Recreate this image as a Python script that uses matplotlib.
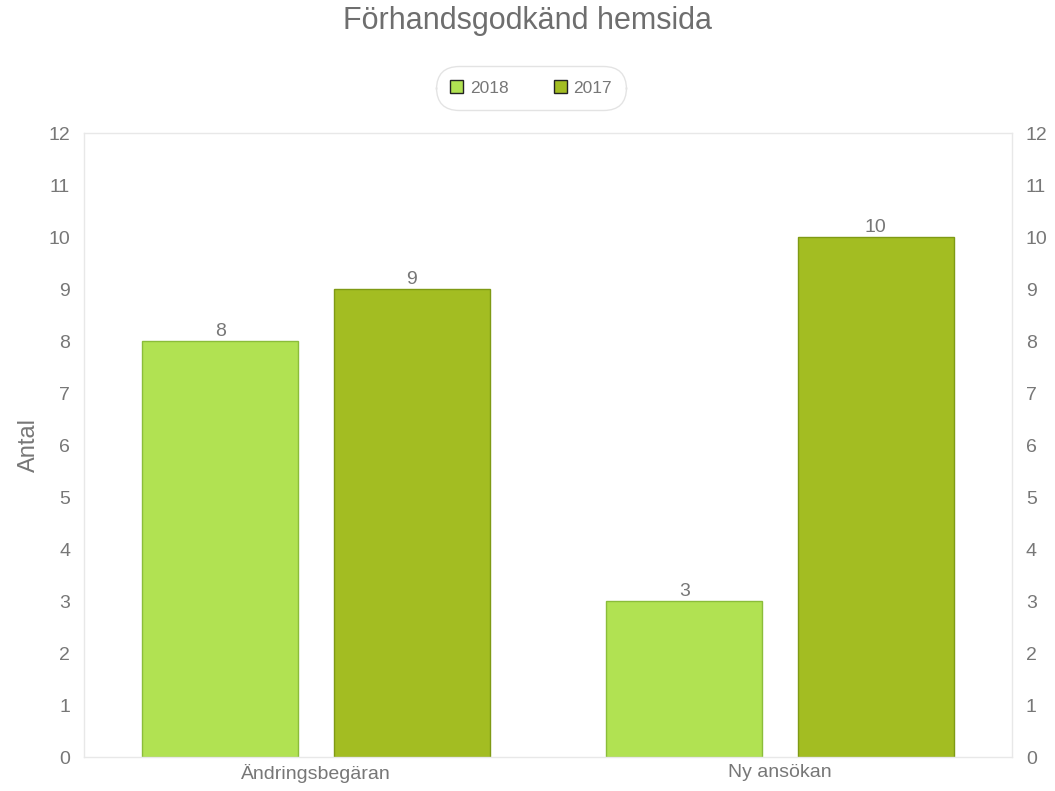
import numpy as np
import matplotlib.pyplot as plt

plt.rcParams['font.family'] = ['Liberation Sans', 'DejaVu Sans']

# data
kategorier = ['Ändringsbegäran', 'Ny ansökan']
serier = ['2018', '2017']
varden_2018 = [8, 3]
varden_2017 = [9, 10]

farger = ['#b1e252', '#a3bd22']
kanter = ['#8bbd3a', '#7f9a14']
grå = '#777777'

fig = plt.figure(figsize=(10.55, 7.91), dpi=100)
ax = fig.add_axes([84 / 1055, 1 - 757 / 791, 928 / 1055, 624 / 791])

x = np.arange(len(kategorier))
bredd = 0.336
forskjut = 0.206

for i, (namn, varden) in enumerate(zip(serier, [varden_2018, varden_2017])):
    pos = x + (forskjut if i else -forskjut)
    staplar = ax.bar(pos, varden, bredd, color=farger[i], edgecolor=kanter[i],
                     linewidth=1, label=namn, zorder=2)
    for s, v in zip(staplar, varden):
        ax.text(s.get_x() + s.get_width() / 2, v + 0.02, str(v), ha='center',
                va='bottom', fontsize=14, color=grå)

ax.set_xlim(-0.5, 1.5)
ax.set_ylim(0, 12)
ax.set_yticks(range(0, 13))
ax.set_xticks(x)
ax.set_xticklabels(kategorier)
ax.tick_params(axis='both', length=0, labelsize=14, labelcolor=grå)
ax.tick_params(axis='y', labelright=True, right=False, pad=10)
ax.tick_params(axis='x', pad=5)
for sp in ax.spines.values():
    sp.set_color('#e8e8e8')
    sp.set_linewidth(1)

ax.set_ylabel('Antal', fontsize=17, color=grå, labelpad=6)

fig.text(0.5, 1 - 21 / 791, 'Förhandsgodkänd hemsida', ha='center', va='center',
         fontsize=22, color='#6e6e6e')

leg = fig.legend(loc='center', bbox_to_anchor=(531 / 1055, 1 - 88 / 791), ncol=2,
                 frameon=True, fontsize=12.5, handlelength=0.75, handleheight=0.75,
                 handletextpad=0.4, columnspacing=2.6, borderpad=1.0,
                 labelcolor=grå, fancybox=True)
leg.get_frame().set_edgecolor('#dddddd')
leg.get_frame().set_linewidth(1)
leg.get_frame().set_boxstyle('round', pad=-0.2, rounding_size=1.3)
for h in leg.legend_handles:
    h.set_edgecolor('#222222')

fig.savefig('out.png', dpi=100)
